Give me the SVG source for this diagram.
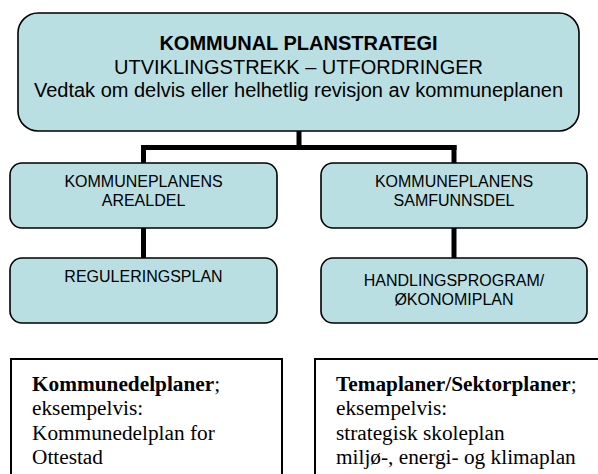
<svg xmlns="http://www.w3.org/2000/svg" width="598" height="474" viewBox="0 0 598 474">
<style>
.box{fill:#BADFE2;stroke:#000;stroke-width:1.6}
.plain{fill:#fff;stroke:#000;stroke-width:2}
.conn{stroke:#000;stroke-width:5;fill:none;stroke-linecap:butt}
.s{font-family:"Liberation Sans",Arial,sans-serif;fill:#000;text-anchor:middle}
.t{font-family:"Liberation Serif","Times New Roman",serif;fill:#000;font-size:21.3px}
</style>
<g id="connectors">
<path class="conn" d="M299,131 V147.5"/>
<path class="conn" d="M141,147.5 H456.5"/>
<path class="conn" d="M143.5,145 V163"/>
<path class="conn" d="M454,145 V163"/>
<path class="conn" d="M143.5,228 V258"/>
<path class="conn" d="M454,228 V258"/>
</g>
<g id="planstrategi">
<rect class="box" x="18" y="13" width="561" height="118" rx="20"/>
<text class="s" x="298.5" y="50" font-size="20" font-weight="bold">KOMMUNAL PLANSTRATEGI</text>
<text class="s" x="298.5" y="74" font-size="20">UTVIKLINGSTREKK – UTFORDRINGER</text>
<text class="s" x="298.5" y="97" font-size="20">Vedtak om delvis eller helhetlig revisjon av kommuneplanen</text>
</g>
<g id="arealdel">
<rect class="box" x="10" y="163" width="267" height="65" rx="12"/>
<text class="s" x="143.5" y="187" font-size="16">KOMMUNEPLANENS</text>
<text class="s" x="143.5" y="206" font-size="16">AREALDEL</text>
</g>
<g id="samfunnsdel">
<rect class="box" x="321" y="163" width="266" height="65" rx="12"/>
<text class="s" x="454" y="187" font-size="16">KOMMUNEPLANENS</text>
<text class="s" x="454" y="206" font-size="16">SAMFUNNSDEL</text>
</g>
<g id="reguleringsplan">
<rect class="box" x="10" y="258" width="267" height="65" rx="12"/>
<text class="s" x="143.5" y="282" font-size="16">REGULERINGSPLAN</text>
</g>
<g id="handlingsprogram">
<rect class="box" x="321" y="258" width="266" height="65" rx="12"/>
<text class="s" x="454" y="286" font-size="16">HANDLINGSPROGRAM/</text>
<text class="s" x="454" y="305" font-size="16">ØKONOMIPLAN</text>
</g>
<g id="kommunedelplaner">
<rect class="plain" x="11" y="359" width="271" height="130"/>
<text class="t" x="32" y="391"><tspan font-weight="bold">Kommunedelplaner</tspan>;</text>
<text class="t" x="32" y="415">eksempelvis:</text>
<text class="t" x="32" y="440">Kommunedelplan for</text>
<text class="t" x="32" y="464">Ottestad</text>
</g>
<g id="temaplaner">
<rect class="plain" x="315" y="359" width="300" height="130"/>
<text class="t" x="336" y="391"><tspan font-weight="bold">Temaplaner/Sektorplaner</tspan>;</text>
<text class="t" x="336" y="415">eksempelvis:</text>
<text class="t" x="336" y="440">strategisk skoleplan</text>
<text class="t" x="336" y="464">miljø-, energi- og klimaplan</text>
</g>
</svg>
